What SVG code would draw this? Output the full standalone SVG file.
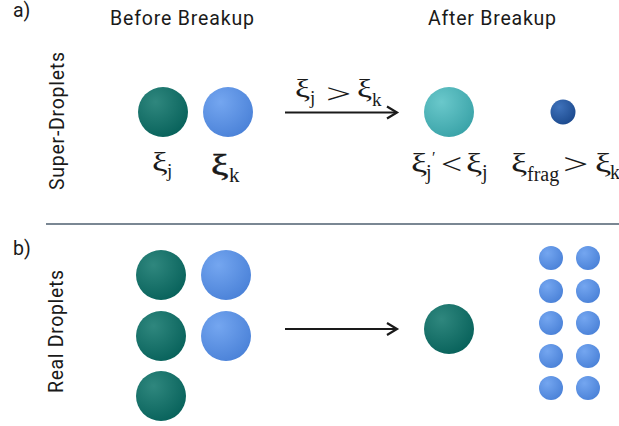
<svg xmlns="http://www.w3.org/2000/svg" width="619" height="426" viewBox="0 0 619 426">
<style>
.sans{font-family:Roboto,"Liberation Sans",sans-serif;font-size:19.5px;fill:#1a1a1a}
.m{font-family:"Liberation Serif","Times New Roman",serif;fill:#1a1a1a}
.arrow{stroke:#1a1a1a;stroke-width:2.2;fill:none}
</style>
<defs>
<radialGradient id="gGreen" cx="0.35" cy="0.3" r="0.75"><stop offset="0" stop-color="#2f877e"/><stop offset="1" stop-color="#08625b"/></radialGradient>
<radialGradient id="gBlue" cx="0.35" cy="0.3" r="0.75"><stop offset="0" stop-color="#74a6f0"/><stop offset="1" stop-color="#4b82d8"/></radialGradient>
<radialGradient id="gCyan" cx="0.35" cy="0.3" r="0.75"><stop offset="0" stop-color="#6ac8cb"/><stop offset="1" stop-color="#3aa3a8"/></radialGradient>
<radialGradient id="gNavy" cx="0.35" cy="0.3" r="0.75"><stop offset="0" stop-color="#3f72bb"/><stop offset="1" stop-color="#1c4a8e"/></radialGradient>
<marker id="head" markerWidth="14" markerHeight="16" refX="11" refY="7" orient="auto" markerUnits="userSpaceOnUse" viewBox="0 0 14 14">
<path d="M1,1 L11,7 L1,13" fill="none" stroke="#1a1a1a" stroke-width="2.2"/>
</marker>
</defs>

<g id="labels">
<text class="sans" x="13" y="17">a)</text>
<text class="sans" x="13" y="255">b)</text>
<text class="sans" x="110" y="25" textLength="144" lengthAdjust="spacing">Before Breakup</text>
<text class="sans" x="428" y="25" textLength="128" lengthAdjust="spacing">After Breakup</text>
<text class="sans" transform="translate(64,190) rotate(-90)" textLength="138" lengthAdjust="spacing">Super-Droplets</text>
<text class="sans" transform="translate(63,393) rotate(-90)" textLength="123" lengthAdjust="spacing">Real Droplets</text>
</g>

<line id="divider" x1="46" y1="224" x2="619" y2="224" stroke="#7a8793" stroke-width="2"/>

<g id="connectors">
<line class="arrow" x1="285" y1="112.5" x2="397" y2="112.5" marker-end="url(#head)"/>
<line class="arrow" x1="285" y1="329" x2="397" y2="329" marker-end="url(#head)"/>
</g>

<g id="arrow-label">
<text class="m" font-size="26" transform="translate(295,97) scale(1.3,1)">ξ</text>
<text class="m" x="310" y="104" font-size="19">j</text>
<text class="m" font-size="28" transform="translate(326,103) scale(1.6,1)">&gt;</text>
<text class="m" font-size="26" transform="translate(357,97) scale(1.3,1)">ξ</text>
<text class="m" x="372" y="106" font-size="19">k</text>
</g>

<g id="sd-j">
<circle cx="163" cy="112" r="25" fill="url(#gGreen)"/>
<text class="m" font-size="27" transform="translate(152,171) scale(1.3,1)">ξ</text>
<text class="m" x="167" y="177" font-size="19">j</text>
</g>
<g id="sd-k">
<circle cx="228" cy="112" r="25" fill="url(#gBlue)"/>
<text class="m" font-size="29" stroke="#1a1a1a" stroke-width="0.5" transform="translate(211,175) scale(1.35,1)">ξ</text>
<text class="m" x="229" y="182" font-size="21">k</text>
</g>
<g id="sd-j-after">
<circle cx="449" cy="112" r="25" fill="url(#gCyan)"/>
<text class="m" font-size="28" transform="translate(411,172) scale(1.3,1)">ξ</text>
<text class="m" x="426" y="179" font-size="20">j</text>
<text class="m" x="432" y="163" font-size="16">′</text>
<text class="m" font-size="30" transform="translate(441,174) scale(1.25,1)">&lt;</text>
<text class="m" font-size="28" transform="translate(466,172) scale(1.3,1)">ξ</text>
<text class="m" x="482" y="179" font-size="20">j</text>
</g>
<g id="sd-frag">
<circle cx="563" cy="112" r="12.5" fill="url(#gNavy)"/>
<text class="m" font-size="28" transform="translate(511,172) scale(1.3,1)">ξ</text>
<text class="m" x="527" y="181" font-size="20">frag</text>
<text class="m" font-size="30" transform="translate(563,174) scale(1.5,1)">&gt;</text>
<text class="m" font-size="28" transform="translate(595,172) scale(1.3,1)">ξ</text>
<text class="m" x="610" y="179" font-size="20">k</text>
</g>

<g id="real-before">
<circle cx="161" cy="275" r="25" fill="url(#gGreen)"/>
<circle cx="161" cy="336" r="25" fill="url(#gGreen)"/>
<circle cx="161" cy="396" r="25" fill="url(#gGreen)"/>
<circle cx="226" cy="275" r="25" fill="url(#gBlue)"/>
<circle cx="226" cy="336" r="25" fill="url(#gBlue)"/>
</g>

<g id="real-after">
<circle cx="449" cy="329" r="25" fill="url(#gGreen)"/>
</g>

<g id="real-fragments">
<circle cx="551" cy="258" r="12" fill="url(#gBlue)"/>
<circle cx="588" cy="258" r="12" fill="url(#gBlue)"/>
<circle cx="551" cy="291" r="12" fill="url(#gBlue)"/>
<circle cx="588" cy="291" r="12" fill="url(#gBlue)"/>
<circle cx="551" cy="323" r="12" fill="url(#gBlue)"/>
<circle cx="588" cy="323" r="12" fill="url(#gBlue)"/>
<circle cx="551" cy="356" r="12" fill="url(#gBlue)"/>
<circle cx="588" cy="356" r="12" fill="url(#gBlue)"/>
<circle cx="551" cy="388" r="12" fill="url(#gBlue)"/>
<circle cx="588" cy="388" r="12" fill="url(#gBlue)"/>
</g>
</svg>
